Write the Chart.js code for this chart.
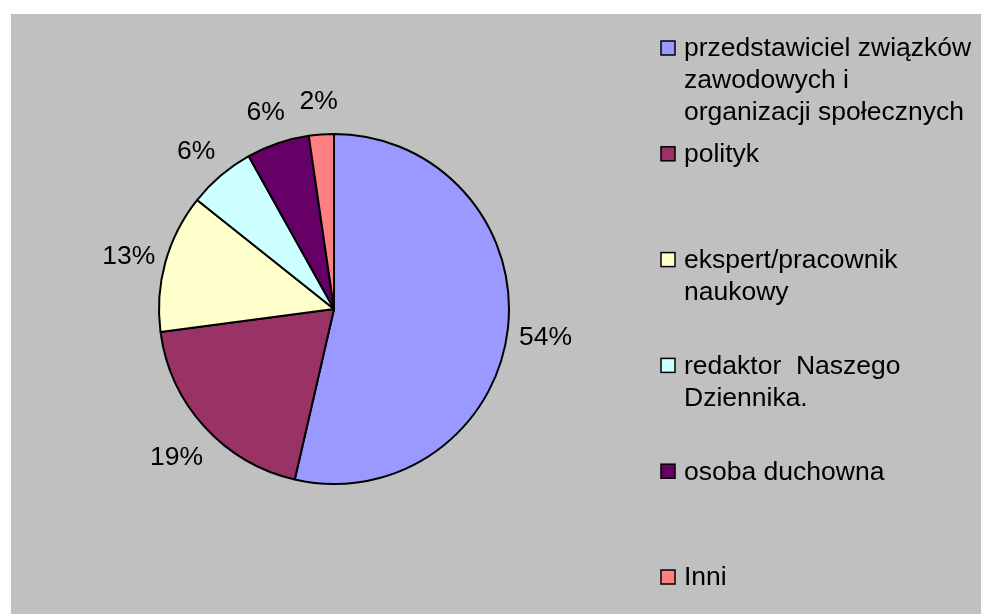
<!DOCTYPE html>
<html>
<head>
<meta charset="utf-8">
<script src="https://cdn.jsdelivr.net/npm/chart.js@4/dist/chart.umd.min.js"></script>
<style>
  html, body { margin: 0; padding: 0; background: #ffffff; }
  #wrap { position: absolute; left: 11px; top: 14px; width: 970px; height: 600px; background: #c0c0c0; }
</style>
</head>
<body>
<div id="wrap"><canvas id="chart" width="970" height="600"></canvas></div>
<script>
// legend text, one entry per slice (wrapped as in the original)
const categories = [
    ["przedstawiciel związków", "zawodowych i", "organizacji społecznych"],
    ["polityk"],
    ["ekspert/pracownik", "naukowy"],
    ["redaktor  Naszego", "Dziennika."],
    ["osoba duchowna"],
    ["Inni"]
];
const shares = [53.6, 19.3, 12.8, 6.2, 5.8, 2.3];
const sliceColors = ["#9999ff", "#993366", "#ffffcc", "#ccffff", "#660066", "#ff8080"];

const font = "26.5px 'Liberation Sans', Arial, sans-serif";

// percent labels outside each slice
const pctLabels = {
    id: "pctLabels",
    afterDatasetsDraw(chart) {
        const ctx = chart.ctx;
        const meta = chart.getDatasetMeta(0);
        const total = shares.reduce((a, b) => a + b, 0);
        ctx.save();
        ctx.font = font;
        ctx.fillStyle = "#000";
        ctx.textAlign = "center";
        ctx.textBaseline = "middle";
        meta.data.forEach((arc, i) => {
            const mid = (arc.startAngle + arc.endAngle) / 2;
            const r = arc.outerRadius + 38;
            const x = arc.x + Math.cos(mid) * r;
            const y = arc.y + Math.sin(mid) * r + 5;
            ctx.fillText(Math.round(shares[i] / total * 100) + "%", x, y);
        });
        ctx.restore();
    }
};

// legend on the right, drawn by hand so the wrapped lines stay as they are
const sideLegend = {
    id: "sideLegend",
    afterDraw(chart) {
        const ctx = chart.ctx;
        ctx.save();
        ctx.font = font;
        ctx.textBaseline = "middle";
        categories.forEach((lines, i) => {
            const top = 27 + i * 105.8;
            ctx.fillStyle = sliceColors[i];
            ctx.fillRect(650, top, 14, 14);
            ctx.strokeStyle = "#000";
            ctx.lineWidth = 1.5;
            ctx.strokeRect(650, top, 14, 14);
            ctx.fillStyle = "#000";
            lines.forEach((line, j) => {
                ctx.fillText(line, 673, top + 8 + j * 32);
            });
        });
        ctx.restore();
    }
};

new Chart(document.getElementById("chart"), {
    type: "pie",
    data: {
        labels: categories.map(l => l.join(" ")),
        datasets: [{
            data: shares,
            backgroundColor: sliceColors,
            borderColor: "#000000",
            borderWidth: 2,
            hoverOffset: 0,
            offset: 0
        }]
    },
    options: {
        responsive: false,
        animation: false,
        devicePixelRatio: 1,
        layout: { padding: { left: 147, right: 471, top: 119, bottom: 129 } },
        plugins: {
            legend: { display: false },
            tooltip: { enabled: false }
        }
    },
    plugins: [pctLabels, sideLegend]
});
</script>
</body>
</html>
